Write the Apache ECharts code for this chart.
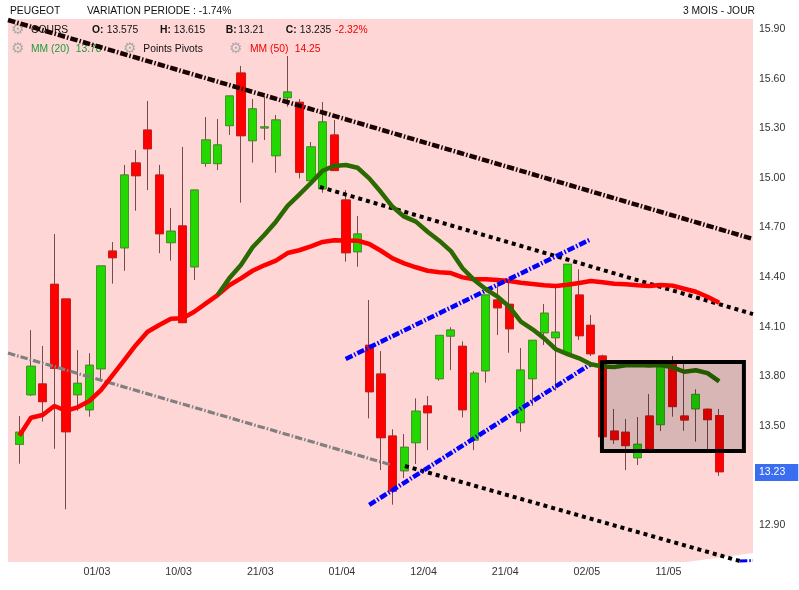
<!DOCTYPE html>
<html>
<head>
<meta charset="utf-8">
<style>html,body{margin:0;padding:0;background:#fff}#c{width:799px;height:590px}</style>
<script src="https://cdn.jsdelivr.net/npm/echarts@6/dist/echarts.min.js"></script>
</head>
<body>
<div id="c"></div>
<script>
const opens = [13.401,13.701,13.766,14.369,14.28,13.701,13.61,13.858,14.57,14.59,15.103,15.302,15.03,14.621,14.722,14.475,15.101,15.099,15.329,15.647,15.238,15.315,15.147,15.498,15.47,14.996,14.947,15.272,14.879,14.566,14.0,13.826,13.451,13.241,13.411,13.633,13.798,14.056,13.994,13.427,13.846,14.274,14.248,13.532,13.798,14.076,14.046,13.952,14.304,14.121,13.935,13.481,13.474,13.32,13.572,13.52,13.891,13.572,13.616,13.613,13.575];
const closes = [13.474,13.873,13.659,13.861,13.477,13.77,13.879,14.48,14.53,15.03,15.026,15.189,14.675,14.69,14.137,14.939,15.242,15.212,15.508,15.268,15.43,15.321,15.363,15.532,15.047,15.2,15.351,15.057,14.56,14.673,13.719,13.441,13.118,13.383,13.601,13.592,14.06,14.092,13.61,13.831,14.304,14.227,14.1,13.85,14.03,14.194,14.079,14.49,14.058,13.949,13.447,13.429,13.393,13.401,13.36,13.881,13.629,13.548,13.703,13.55,13.235];
const lows = [13.284,13.693,13.538,13.374,13.008,13.604,13.568,13.79,14.373,14.451,14.814,14.939,14.557,14.512,14.137,14.395,15.08,15.06,15.272,14.863,15.105,15.242,15.044,15.443,15.01,14.996,14.923,15.057,14.506,14.475,13.558,13.245,13.036,13.197,13.282,13.366,13.786,13.85,13.564,13.366,13.774,14.062,13.955,13.477,13.633,14.002,13.725,13.941,14.032,13.935,13.447,13.403,13.245,13.276,13.36,13.481,13.568,13.483,13.417,13.371,13.21];
const highs = [13.572,14.092,13.996,14.673,14.28,13.971,13.952,14.48,14.625,15.091,15.181,15.478,15.091,14.831,15.2,14.939,15.381,15.369,15.508,15.69,15.49,15.508,15.393,15.75,15.49,15.23,15.472,15.363,14.939,14.782,14.274,13.965,13.492,13.463,13.679,13.693,14.06,14.109,14.024,13.844,14.304,14.365,14.395,13.984,14.03,14.25,14.365,14.49,14.46,14.183,13.943,13.615,13.554,13.566,13.705,13.881,13.935,13.893,13.734,13.619,13.615];
const ma50 = [13.453,13.562,13.578,13.633,13.604,13.625,13.663,13.729,13.82,13.911,14.002,14.082,14.123,14.161,14.163,14.203,14.254,14.304,14.363,14.405,14.451,14.484,14.512,14.558,14.575,14.599,14.625,14.635,14.634,14.633,14.613,14.572,14.526,14.496,14.472,14.451,14.442,14.437,14.411,14.399,14.399,14.395,14.389,14.379,14.371,14.363,14.359,14.366,14.377,14.389,14.381,14.373,14.369,14.363,14.359,14.365,14.361,14.342,14.324,14.294,14.258];
const ma20Start = 17;
const ma20 = [14.304,14.405,14.486,14.593,14.667,14.748,14.843,14.912,14.982,15.056,15.085,15.091,15.074,15.01,14.927,14.838,14.778,14.748,14.687,14.633,14.57,14.466,14.395,14.339,14.294,14.234,14.143,14.097,14.042,13.976,13.947,13.921,13.885,13.872,13.869,13.879,13.881,13.877,13.881,13.867,13.84,13.849,13.832,13.782];
const resistance = [[-0.97,15.968],[62.9,14.643]];
const oldSupport = [[-0.97,13.953],[31.9,13.276]];
const midDotted = [[25.77,14.958],[62.9,14.189]];
const lowDotted = [[33.06,13.27],[61.76,12.695]];
const channelHigh = [[27.98,13.917],[48.86,14.637]];
const channelLow = [[30,13.034],[48.97,13.885]];
const cornerBlue = [[61.77,12.695],[62.9,12.698]];
const cornerWedge = [[57.2,12.689],[62.9,12.743]];
const boxFrom = [49.95,13.899];
const boxTo = [62.12,13.36];
const xTickIndex = [7,14,21,28,35,42,49,56];
const xTickLabels = ['01/03','10/03','21/03','01/04','12/04','21/04','02/05','11/05'];
const yTicks = [12.9,13.5,13.8,14.1,14.4,14.7,15.0,15.3,15.6,15.9];
const lastQuote = 13.23;

const idx = a => a.map((_, i) => i);
const candleData = idx(opens).map(i => [i, opens[i], closes[i], lows[i], highs[i]]);
const bodyData = idx(opens).map(i => [i, opens[i], closes[i], Math.min(opens[i], closes[i]), Math.max(opens[i], closes[i])]);
const ma50Data = ma50.map((v, i) => [i, v]);
const ma20Data = ma20.map((v, i) => [i + ma20Start, v]);

function trend(data, color, width, dash, z) {
  return {type:'line', data, symbol:'none', silent:true, z,
    lineStyle:{color, width, type:dash, cap:'butt'}};
}
const DD = [7.5,2,1.5,2];
const DOT = [4,4];

const FONT = '10.3px "Liberation Sans", Arial, sans-serif';
const T = (text, x, y, color, extra) => Object.assign({
  type:'text', x, y, z:1, silent:true,
  style:Object.assign({text, fill:color, font:FONT, textVerticalAlign:'middle'}, extra||{})
});
const gear = (x, y) => ({type:'text', x, y, z:1, silent:true,
  style:{text:'\u2699', fill:'#aaaaaa', font:'15px "DejaVu Sans"', textAlign:'center', textVerticalAlign:'middle'}});
const BOLD = {font:'bold 10.3px "Liberation Sans", Arial, sans-serif'};

const chart = echarts.init(document.getElementById('c'), null, {renderer:'canvas'});
chart.setOption({
  animation:false,
  backgroundColor:'#ffffff',
  grid:{left:8, right:46, top:19, bottom:28, show:true, backgroundColor:'#ffd6d6', borderWidth:0, z:0, outerBoundsMode:'none'},
  xAxis:{type:'value', min:-0.97, max:62.9, splitLine:{show:false}, axisLine:{show:false}, axisTick:{show:false},
    axisLabel:{customValues:xTickIndex, color:'#333', margin:5, fontSize:10.7, fontFamily:'Liberation Sans', padding:[0,8,0,0],
      formatter:v => xTickLabels[xTickIndex.indexOf(v)] || ''}},
  yAxis:{type:'value', position:'right', min:12.689, max:15.974, splitLine:{show:false}, axisLine:{show:false}, axisTick:{show:false},
    axisLabel:{customValues:yTicks.concat([lastQuote]), margin:2, fontSize:10.5, fontFamily:'Liberation Sans', color:'#333',
      formatter:v => v === lastQuote ? '{q|' + v.toFixed(2) + '}' : '{n|' + v.toFixed(2) + '}',
      rich:{
        n:{color:'#333', fontSize:10.5, fontFamily:'Liberation Sans', padding:[0,0,4,4]},
        q:{color:'#fff', fontSize:10.5, fontFamily:'Liberation Sans', backgroundColor:'#3a6df0', padding:[3,13,3,4]}
      }}},
  graphic:[
    T('PEUGEOT',10,11,'#111'),
    T('VARIATION PERIODE : -1.74%',87,11,'#111'),
    T('3 MOIS - JOUR',755,11,'#111',{textAlign:'right'}),
    gear(18,30), T('COURS',31,30,'#111'),
    T('O:',92,30,'#111',BOLD), T(opens[60].toFixed(3),106.7,30,'#111'),
    T('H:',160,30,'#111',BOLD), T(highs[60].toFixed(3),173.7,30,'#111'),
    T('B:',225.7,30,'#111',BOLD), T(lows[60].toFixed(2),238.3,30,'#111'),
    T('C:',285.7,30,'#111',BOLD), T(closes[60].toFixed(3),299.7,30,'#111'), T('-2.32%',335,30,'#f00000'),
    gear(18,49), T('MM (20)',31,49,'#1f9a3a'), T(ma20[ma20.length-1].toFixed(2),75.7,49,'#1f9a3a'),
    gear(130,49), T('Points Pivots',143.3,49,'#111'),
    gear(236,49), T('MM (50)',250,49,'#f00000'), T('14.25',294.7,49,'#f00000')
  ],
  series:[
    {type:'line', data:cornerWedge, symbol:'none', silent:true, z:2, lineStyle:{width:0}, areaStyle:{color:'#ffffff', opacity:1, origin:'start'}},
    {type:'candlestick', data:candleData, barWidth:8.7, silent:true, z:3,
      itemStyle:{color:'#22d800', color0:'#ff0000', borderColor:'#7a4a4a', borderColor0:'#7a4a4a', borderWidth:1}},
    {type:'candlestick', data:bodyData, barWidth:8.7, silent:true, z:3,
      itemStyle:{color:'#22d800', color0:'#ff0000', borderColor:'#3f9a22', borderColor0:'#d01818', borderWidth:1}},
    trend(oldSupport,'#808080',3.2,DD,4),
    trend(lowDotted,'#000000',4,DOT,4),
    trend(midDotted,'#000000',4,DOT,4),
    {type:'line', data:ma50Data, symbol:'none', silent:true, z:5, lineStyle:{color:'#ff0000', width:4.5}},
    trend(resistance,'#1a0505',4.5,DD,6),
    trend(channelHigh,'#0000ff',4.5,DD,6),
    trend(channelLow,'#0000ff',4.5,DD,6),
    trend(cornerBlue,'#0000ff',3,DD,6),
    {type:'line', data:ma20Data, symbol:'none', silent:true, z:7, lineStyle:{color:'#2a6a00', width:4.5}},
    {type:'line', data:[], symbol:'none', silent:true, z:8,
      markArea:{silent:true, z:8, itemStyle:{color:'rgba(0,0,0,0.15)', borderColor:'#000', borderWidth:4},
        data:[[{coord:boxFrom},{coord:boxTo}]]}}
  ]
});
</script>
</body>
</html>
